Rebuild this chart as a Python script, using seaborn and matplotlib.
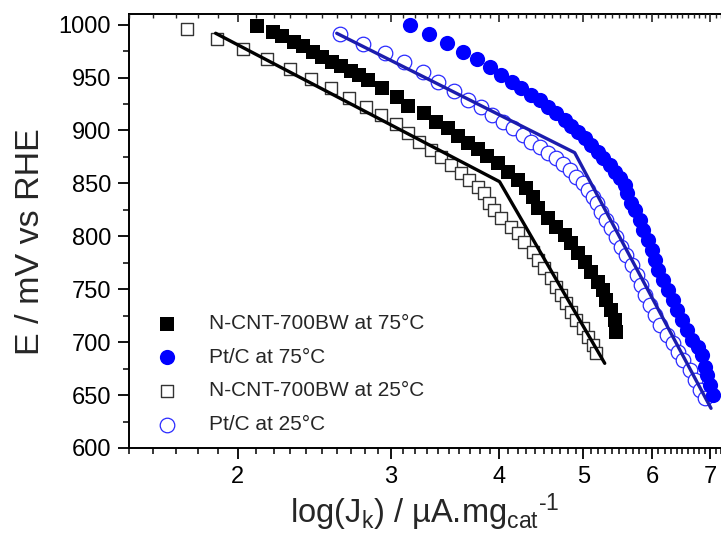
import matplotlib
matplotlib.use("Agg")
import matplotlib.pyplot as plt
import seaborn as sns
from matplotlib.ticker import FixedLocator, MultipleLocator, NullFormatter, FormatStrFormatter

# N-CNT-700BW at 75 C (filled squares)
ncnt75_x = [2.107, 2.199, 2.252, 2.323, 2.381, 2.445, 2.504, 2.567, 2.629, 2.700, 2.760, 2.822,
            2.929, 3.048, 3.139, 3.275, 3.384, 3.491, 3.591, 3.682, 3.781, 3.875, 3.987, 4.094,
            4.204, 4.298, 4.375, 4.434, 4.553, 4.654, 4.758, 4.843, 4.930, 5.018, 5.108, 5.199,
            5.269, 5.315, 5.386, 5.434, 5.458]
ncnt75_y = [998.7, 993.3, 989.2, 983.8, 979.8, 974.4, 969.7, 964.9, 960.9, 956.2, 952.4, 947.7,
            939.8, 931.3, 923.1, 916.2, 908.3, 902.0, 894.8, 887.9, 882.2, 875.9, 869.0, 861.0,
            853.2, 845.3, 837.4, 826.5, 817.0, 809.1, 801.2, 793.4, 783.9, 776.0, 766.6, 757.1,
            749.3, 739.8, 730.4, 720.9, 709.9]

# Pt/C at 75 C (filled circles)
ptc75_x = [3.160, 3.324, 3.484, 3.633, 3.774, 3.899, 4.022, 4.141, 4.241, 4.356,
           4.453, 4.553, 4.654, 4.758, 4.843, 4.930, 5.018, 5.108, 5.199, 5.269,
           5.362, 5.434, 5.507, 5.580, 5.615, 5.670, 5.730, 5.807, 5.859, 5.938,
           5.990, 6.043, 6.097, 6.179, 6.262, 6.345, 6.401, 6.487, 6.573, 6.661,
           6.781, 6.840, 6.901, 6.932, 6.993, 7.056]
ptc75_y = [999.6, 990.8, 982.3, 974.4, 967.2, 959.7, 952.4, 946.1, 939.8, 933.5,
           928.8, 922.4, 916.2, 909.9, 904.2, 898.8, 892.6, 886.3, 879.9, 873.7,
           867.4, 861.0, 854.8, 848.5, 840.6, 831.2, 824.8, 815.4, 806.0, 796.5,
           787.1, 777.6, 768.2, 758.7, 749.3, 739.8, 730.4, 720.9, 711.5, 702.0,
           695.7, 687.9, 676.8, 669.0, 659.5, 650.1]

# N-CNT-700BW at 25 C (open squares)
ncnt25_x = [1.751, 1.892, 2.027, 2.160, 2.296, 2.428, 2.560, 2.687, 2.810, 2.924,
            3.042, 3.142, 3.236, 3.340, 3.429, 3.521, 3.616, 3.694, 3.782, 3.842,
            3.896, 3.946, 4.021, 4.130, 4.208, 4.275, 4.379, 4.436, 4.508, 4.592,
            4.654, 4.715, 4.779, 4.842, 4.907, 5.000, 5.067, 5.135, 5.175]
ncnt25_y = [995.6, 986.1, 976.7, 967.2, 958.3, 948.9, 939.8, 930.9, 922.4, 914.3,
            905.8, 897.9, 889.4, 881.5, 875.2, 867.4, 859.5, 853.2, 846.9, 840.6,
            831.5, 824.8, 817.3, 808.8, 803.1, 794.6, 785.2, 777.6, 770.1, 760.6,
            752.1, 744.5, 737.0, 728.5, 720.9, 713.4, 704.9, 697.3, 689.8]

# Pt/C at 25 C (open circles)
ptc25_x = [2.624, 2.792, 2.955, 3.110, 3.266, 3.405, 3.547, 3.682, 3.807, 3.924,
           4.040, 4.149, 4.261, 4.356, 4.453, 4.553, 4.654, 4.738, 4.822, 4.908,
           4.996, 5.063, 5.131, 5.180, 5.245, 5.315, 5.386, 5.458, 5.531, 5.605,
           5.680, 5.756, 5.822, 5.884, 5.963, 6.043, 6.123, 6.233, 6.345, 6.430,
           6.516, 6.631, 6.720, 6.810, 6.901]
ptc25_y = [991.1, 981.4, 972.9, 965.0, 955.5, 946.1, 937.6, 928.8, 921.9, 914.6,
           908.3, 902.0, 895.7, 889.4, 884.6, 879.0, 873.7, 868.3, 862.6, 856.3,
           850.6, 843.7, 837.4, 831.2, 823.2, 815.4, 807.6, 799.6, 790.2, 782.3,
           772.9, 763.4, 754.0, 744.5, 735.1, 725.6, 716.2, 706.8, 698.9, 691.0,
           683.1, 673.7, 664.2, 654.8, 647.0]

# Tafel fit lines (two slopes each)
ncnt_fit_x = [1.887, 4.004, 5.291]
ncnt_fit_y = [991.8, 851.6, 680.0]
ptc_fit_x = [2.601, 4.886, 7.012]
ptc_fit_y = [991.8, 879.0, 637.5]

labels = ["N-CNT-700BW at 75°C", "Pt/C at 75°C", "N-CNT-700BW at 25°C", "Pt/C at 25°C"]
x_major = [2, 3, 4, 5, 6, 7]
y_major = [600, 650, 700, 750, 800, 850, 900, 950, 1000]

sns.set_theme(style="ticks")
plt.rcParams["font.family"] = ["Liberation Sans", "DejaVu Sans"]
plt.rcParams["mathtext.fontset"] = "custom"
plt.rcParams["mathtext.rm"] = "Liberation Sans"
plt.rcParams["mathtext.it"] = "Liberation Sans:italic"

fig = plt.figure(figsize=(7.21, 5.41), dpi=100)
ax = fig.add_axes([129 / 721, 93 / 541, 592 / 721, 434 / 541])

# open markers first, fit lines over them, filled markers on top
sns.scatterplot(x=ncnt25_x, y=ncnt25_y, marker="s", s=72, color="white",
                edgecolor="#333333", linewidth=1.0, label=labels[2], ax=ax, zorder=2)
sns.scatterplot(x=ptc25_x, y=ptc25_y, marker="o", s=110, color="white",
                edgecolor="#2a2aff", linewidth=0.9, label=labels[3], ax=ax, zorder=2)
sns.lineplot(x=ncnt_fit_x, y=ncnt_fit_y, color="black", linewidth=2.4, sort=False,
             legend=False, ax=ax, zorder=3)
sns.lineplot(x=ptc_fit_x, y=ptc_fit_y, color="#1c1cae", linewidth=2.4, sort=False,
             legend=False, ax=ax, zorder=3)
sns.scatterplot(x=ncnt75_x, y=ncnt75_y, marker="s", s=90, color="black",
                edgecolor="black", linewidth=0, label=labels[0], ax=ax, zorder=4)
sns.scatterplot(x=ptc75_x, y=ptc75_y, marker="o", s=120, color="#0000ff",
                edgecolor="#0000ff", linewidth=0, label=labels[1], ax=ax, zorder=4)

ax.set_xscale("log")
ax.set_xlim(1.5, 7.2)
ax.set_ylim(600, 1010)
ax.xaxis.set_major_locator(FixedLocator(x_major))
ax.xaxis.set_major_formatter(FormatStrFormatter("%d"))
ax.xaxis.set_minor_locator(MultipleLocator(0.1))
ax.xaxis.set_minor_formatter(NullFormatter())
ax.yaxis.set_major_locator(FixedLocator(y_major))
ax.yaxis.set_minor_locator(MultipleLocator(25))

for side in ["left", "bottom", "top"]:
    ax.spines[side].set_linewidth(1.4)
    ax.spines[side].set_color("black")
ax.spines["right"].set_visible(False)
ax.tick_params(which="major", direction="out", length=8, width=1.3, labelsize=17,
               colors="black", pad=5)
ax.tick_params(which="minor", direction="out", length=4, width=1.1, colors="black")

top = ax.twiny()
top.set_xscale("log")
top.set_xlim(ax.get_xlim())
top.xaxis.set_major_locator(FixedLocator(x_major))
top.xaxis.set_minor_locator(MultipleLocator(0.1))
top.xaxis.set_major_formatter(NullFormatter())
top.xaxis.set_minor_formatter(NullFormatter())
top.tick_params(which="major", direction="in", length=6, width=1.2)
top.tick_params(which="minor", direction="in", length=3, width=1.0)
for side in top.spines:
    top.spines[side].set_visible(False)

ax.set_xlabel(r"log(J$_\mathregular{k}$) / µA.mg$_\mathregular{cat}$$^\text{-1}$", fontsize=23.5)
ax.xaxis.set_label_coords(0.5, -0.1)
ax.set_ylabel("E / mV vs RHE", fontsize=24.5)
ax.yaxis.set_label_coords(-0.14, 0.475)

handles, lbls = ax.get_legend_handles_labels()
order = [lbls.index(l) for l in labels]
ax.legend([handles[i] for i in order], labels, loc="upper left",
          bbox_to_anchor=(0.047, 0.308), frameon=False, fontsize=15,
          handlelength=1.0, handletextpad=1.5, labelspacing=0.7,
          borderpad=0, borderaxespad=0)

fig.savefig("out.png", dpi=100)
